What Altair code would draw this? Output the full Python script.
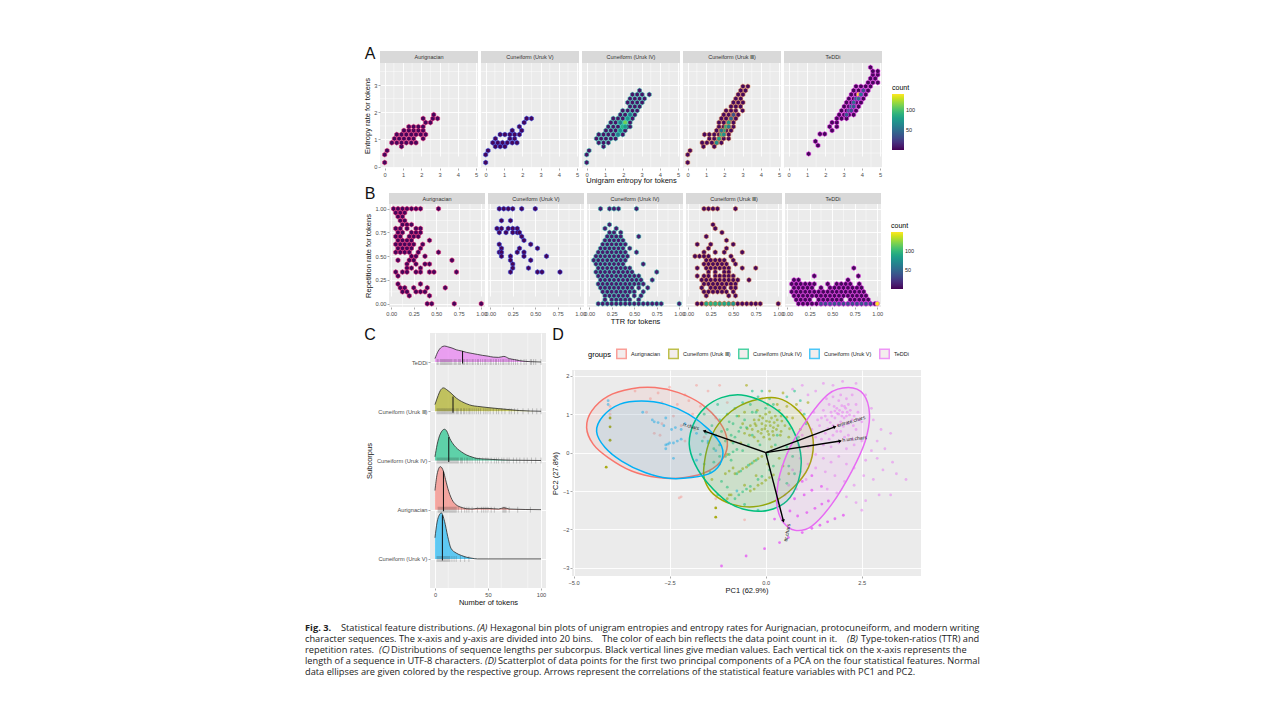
import altair as alt
import pandas as pd

FONT = "Liberation Sans"
GROUPS = ["Aurignacian", "Cuneiform (Uruk V)", "Cuneiform (Uruk IV)", "Cuneiform (Uruk Ⅲ)", "TeDDi"]
LEGEND_ORDER = ["Aurignacian", "Cuneiform (Uruk Ⅲ)", "Cuneiform (Uruk IV)", "Cuneiform (Uruk V)", "TeDDi"]
GROUP_COLORS = ["#F8766D", "#A3A500", "#00BF7D", "#00B0F6", "#E76BF3"]
HEX_STROKES = ["#ee1a6e", "#2a48ee", "#35d8b8", "#e8884a", "#f02cf0"]
HEX = "M0,-1L0.866,-0.5L0.866,0.5L0,1L-0.866,0.5L-0.866,-0.5Z"

# ---- Panel A: (y, [x ...]) rows of hexagons, with a base count and hot cells
A_AUR = [(0.15,[0.0]),(0.44,[0.0]),(0.59,[0.13]),(0.74,[0.92]),
 (0.88,[0.39,0.66,0.92,1.18,1.45,1.71]),(1.03,[0.53,0.79,1.05,1.32,1.58,2.1]),
 (1.18,[0.66,0.92,1.18,1.45,1.71,1.97,2.24]),(1.33,[1.05,1.32,1.58,1.84,2.1]),
 (1.47,[1.32,1.58,1.84,2.1]),(1.62,[2.24,2.5]),(1.77,[2.1,2.63,2.89]),(1.91,[2.68])]
A_V = [(0.15,[0.0]),(0.44,[0.0]),(0.59,[0.13]),(0.74,[0.53,0.79,1.05]),
 (0.88,[0.39,0.66,0.92,1.18,1.45,1.71]),(1.03,[0.53,1.32,1.58]),
 (1.18,[0.79,1.05,1.32,1.58,1.84]),(1.33,[1.45,1.97]),(1.47,[1.84]),
 (1.62,[2.1]),(1.77,[2.24,2.5])]
A_IV = [(0.15,[0.0]),(0.44,[0.0]),(0.59,[0.13]),(0.74,[0.92]),(0.88,[0.66,0.92,1.18]),
 (1.03,[0.53,0.79,1.05,1.32,1.58]),(1.18,[0.66,0.92,1.18,1.45,1.71,1.97]),
 (1.33,[1.05,1.32,1.58,1.84,2.1]),(1.47,[1.18,1.45,1.71,1.97,2.24,2.37]),
 (1.62,[1.32,1.58,1.84,2.1,2.37]),(1.77,[1.45,1.71,1.97,2.24,2.5]),
 (1.91,[1.84,2.1,2.37,2.63]),(2.06,[1.97,2.24,2.5,2.76]),(2.21,[2.37,2.63,2.89]),
 (2.36,[2.24,2.5,2.76,3.03]),(2.5,[2.37,2.63,2.89,3.16]),(2.65,[2.5,2.76,3.03,3.42]),
 (2.8,[2.89])]
A_III = [(0.15,[0.0]),(0.44,[0.0]),(0.59,[0.13]),(0.74,[0.86,1.45]),
 (0.88,[0.79,1.05,1.32,1.58,1.84]),(1.03,[1.18,1.45,1.71,1.97,2.24]),
 (1.18,[0.92,1.18,1.45,1.71,1.97,2.24]),(1.33,[1.58,1.84,2.1,2.37]),
 (1.47,[1.71,1.97,2.24,2.5]),(1.62,[1.71,1.97,2.24,2.5]),(1.77,[1.84,2.1,2.37,2.63]),
 (1.91,[1.97,2.24,2.5,2.76]),(2.06,[2.1,2.37,2.63,3.0]),(2.21,[2.37,2.63,2.89]),
 (2.36,[2.5,2.76,3.02]),(2.5,[2.63,2.9]),(2.65,[2.76,3.02]),(2.8,[2.9,3.16]),(2.95,[3.02,3.29])]
A_TE = [(0.47,[1.09]),(0.78,[1.6]),(0.93,[1.46]),(1.2,[1.71,1.97]),(1.33,[2.37]),
 (1.47,[2.24,2.63]),(1.62,[2.37,2.63]),(1.77,[2.63,2.89,3.16]),(1.91,[2.76,3.03,3.29,3.55]),
 (2.06,[2.89,3.16,3.42,3.68]),(2.21,[3.03,3.29,3.55,3.82]),(2.36,[3.16,3.42,3.68,3.95]),
 (2.5,[3.29,3.55,3.82,4.08]),(2.65,[3.42,3.68,3.95,4.21]),(2.8,[3.55,3.82,4.08,4.34]),
 (2.95,[3.68,3.95,4.21,4.47]),(3.09,[4.34,4.6,4.87]),(3.24,[4.47,4.73]),(3.38,[4.6,4.87]),
 (3.51,[4.6,4.87]),(3.65,[4.47])]
A_BASE = [3, 3, 8, 4, 3]
A_HOT = [[], [],
 [(1.84,1.33,70),(1.97,1.47,90),(2.1,1.62,110),(1.71,1.18,55),(2.24,1.77,70),(1.84,1.62,60),(2.1,1.47,75),(2.37,1.91,50)],
 [(1.71,1.03,80),(1.84,1.18,90),(1.97,1.33,85),(2.1,1.47,90),(2.24,1.62,75),(1.97,1.18,70),(1.58,0.88,70),(2.37,1.77,45),(2.5,1.91,35),(2.24,1.47,60),(1.84,1.33,55)],
 [(3.16,1.91,40),(3.29,2.06,45),(3.42,2.21,55),(3.55,2.36,50),(3.68,2.5,45),(3.82,2.65,140),(3.95,2.65,55),(3.82,2.5,50),(3.55,2.21,40),(4.08,2.8,35),(3.42,2.06,35)]]

# ---- Panel B
B_AUR = [(1.0,[0.025,0.075,0.125,0.175,0.225,0.275,0.325,0.525]),(0.958,[0.05,0.1,0.15]),
 (0.917,[0.075,0.125]),(0.875,[0.1,0.15]),(0.833,[0.125,0.175,0.225]),
 (0.792,[0.05,0.1,0.175,0.275,0.325]),(0.75,[0.075,0.125,0.225,0.275,0.325]),
 (0.708,[0.05,0.1,0.2,0.25,0.3]),(0.667,[0.075,0.125,0.175,0.225,0.425]),
 (0.625,[0.05,0.1,0.15,0.2,0.25,0.35]),(0.583,[0.075,0.125,0.175,0.225,0.325]),
 (0.542,[0.05,0.1,0.15,0.2,0.3,0.525]),(0.5,[0.225,0.275,0.375]),
 (0.458,[0.075,0.2,0.25,0.675]),(0.417,[0.175,0.275,0.375,0.425]),(0.375,[0.175,0.225,0.325]),
 (0.333,[0.05,0.125,0.175,0.275,0.325,0.425,0.475,0.725]),(0.292,[0.075]),
 (0.208,[0.075,0.325]),(0.167,[0.1,0.15,0.25,0.4,0.6]),(0.125,[0.125,0.175,0.275,0.325,0.375]),
 (0.083,[0.2,0.425]),(0.0,[0.4,0.45,0.7,1.0])]
B_V = [(1.0,[0.1,0.15,0.2,0.25,0.35,0.5]),(0.875,[0.125,0.225]),
 (0.792,[0.075,0.125,0.2,0.25,0.3]),(0.75,[0.1,0.175,0.25,0.3,0.325]),(0.708,[0.35]),
 (0.667,[0.375]),(0.625,[0.1,0.45]),(0.583,[0.125,0.325,0.525]),
 (0.542,[0.1,0.125,0.3,0.375]),(0.5,[0.125,0.225,0.375,0.625]),(0.458,[0.225,0.45]),
 (0.417,[0.25]),(0.375,[0.25,0.425]),(0.333,[0.225,0.525,0.575,0.775])]
B_IV = [(1.0,[0.125,0.225,0.275,0.325,0.525]),(0.833,[0.225]),(0.792,[0.175,0.3]),
 (0.75,[0.225,0.275,0.35]),(0.708,[0.2,0.25,0.3,0.35,0.55]),(0.667,[0.175,0.225,0.275,0.325,0.375]),
 (0.625,[0.15,0.2,0.25,0.3,0.35,0.4]),(0.583,[0.125,0.175,0.225,0.275,0.325,0.375,0.45]),
 (0.542,[0.1,0.15,0.2,0.25,0.3,0.35,0.4,0.525]),(0.5,[0.075,0.125,0.175,0.225,0.275,0.325,0.375,0.425]),
 (0.458,[0.05,0.1,0.15,0.2,0.25,0.3,0.35,0.4]),(0.417,[0.075,0.125,0.175,0.225,0.275,0.325,0.375,0.6]),
 (0.375,[0.1,0.15,0.2,0.25,0.3,0.35,0.4,0.45]),(0.333,[0.075,0.125,0.175,0.225,0.275,0.325,0.375,0.425,0.475,0.75]),
 (0.292,[0.1,0.15,0.2,0.25,0.3,0.35,0.4,0.45,0.5,0.55]),(0.25,[0.125,0.175,0.225,0.275,0.325,0.375,0.425,0.475,0.525,0.575,0.7]),
 (0.208,[0.1,0.15,0.2,0.25,0.3,0.35,0.4,0.45,0.5,0.55,0.6]),(0.167,[0.125,0.175,0.225,0.275,0.325,0.375,0.425,0.475,0.55,0.65]),
 (0.125,[0.15,0.2,0.25,0.3,0.35,0.4,0.45,0.5,0.6]),(0.083,[0.175,0.225,0.275,0.325,0.375,0.425,0.5,0.575]),
 (0.042,[0.175,0.25,0.3,0.35,0.4,0.45,0.55]),
 (0.0,[0.1,0.15,0.2,0.25,0.3,0.35,0.4,0.45,0.5,0.55,0.6,0.65,0.7,0.75,0.8,1.0])]
B_III = [(1.0,[0.175,0.225,0.275,0.325,0.525]),(0.833,[0.275]),(0.792,[0.3]),(0.75,[0.375]),
 (0.708,[0.2]),(0.667,[0.425]),(0.625,[0.1,0.25,0.5]),(0.583,[0.225,0.425]),
 (0.542,[0.175,0.3,0.4,0.6]),(0.5,[0.075,0.125,0.175,0.225,0.475]),
 (0.458,[0.2,0.25,0.3,0.35,0.4,0.5]),(0.417,[0.175,0.225,0.275,0.325,0.375,0.425,0.525]),
 (0.375,[0.1,0.2,0.25,0.3,0.35,0.4,0.45,0.6,0.75]),(0.333,[0.225,0.3,0.4,0.45]),
 (0.292,[0.1,0.175,0.225,0.3,0.35,0.4,0.45,0.5]),(0.25,[0.15,0.2,0.25,0.3,0.35,0.4,0.45,0.5,0.55,0.675]),
 (0.208,[0.175,0.225,0.275,0.325,0.375,0.425,0.475,0.525]),(0.167,[0.15,0.25,0.3,0.35,0.4,0.475,0.525]),
 (0.125,[0.175,0.225,0.275,0.325,0.375,0.425,0.5]),(0.083,[0.2,0.45,0.525]),
 (0.0,[0.1,0.15,0.2,0.25,0.3,0.35,0.4,0.45,0.5,0.55,0.6,0.65,0.7,0.75,0.8,1.0])]
B_TE = [(0.375,[0.74]),(0.292,[0.3,0.79]),(0.25,[0.075,0.125,0.675]),
 (0.208,[0.05,0.1,0.15,0.2,0.25,0.3,0.45,0.55,0.6,0.65,0.7,0.8]),
 (0.167,[0.075,0.125,0.175,0.225,0.275,0.375,0.475,0.525,0.575,0.625,0.675,0.725,0.775,0.825]),
 (0.125,[0.05,0.1,0.15,0.2,0.25,0.3,0.35,0.4,0.45,0.5,0.55,0.6,0.65,0.7,0.75,0.8,0.85]),
 (0.083,[0.075,0.125,0.175,0.225,0.275,0.325,0.375,0.425,0.475,0.525,0.575,0.625,0.675,0.725,0.775,0.825,0.875]),
 (0.042,[0.1,0.15,0.2,0.25,0.35,0.4,0.45,0.5,0.55,0.6,0.7,0.75,0.8,0.85,0.9]),
 (0.0,[0.125,0.175,0.225,0.275,0.325,0.375,0.425,0.475,0.525,0.575,0.625,0.675,0.725,0.775,0.825,0.875,0.925,0.975])]
B_BASE = [3, 3, 12, 4, 4]
B_HOT = [[], [], [],
 [(0.2,0,90),(0.25,0,95),(0.3,0,95),(0.35,0,90),(0.4,0,90),(0.45,0,85),(0.5,0,80)],
 [(0.375,0,35),(0.425,0,35),(0.475,0,40),(0.525,0,40),(0.575,0,35),(0.625,0,35),(0.675,0,35),(0.725,0,35),(0.775,0,35),(0.825,0,40),(0.875,0,40),(0.925,0,35),(1.0,0,150)]]

# ---- Panel C: ridge heights (fractions of the row spacing) over token counts
RIDGE_ORDER = ["TeDDi", "Cuneiform (Uruk Ⅲ)", "Cuneiform (Uruk IV)", "Aurignacian", "Cuneiform (Uruk V)"]
RIDGE_COLORS = ["#E76BF3", "#A3A500", "#00BF7D", "#F8766D", "#00B0F6"]
RIDGE_BASE = [4, 3, 2, 1, 0]
RIDGE_X = [
 [0,3,6,9,12,16,20,25,30,35,40,45,50,55,60,65,70,75,80,85,90,100],
 [0,3,5,8,11,14,17,20,25,30,35,40,50,60,70,80,90,100],
 [0,2,5,9,11,14,18,25,30,35,40,50,60,70,100],
 [0,2,5,8,10,13,17,20,25,30,35,40,50,60,65,70,100],
 [0,2,4,6,9,12,15,20,25,30,35,40,100]]
RIDGE_H = [
 [.07,.22,.30,.325,.31,.285,.25,.225,.195,.175,.155,.135,.12,.10,.095,.115,.07,.05,.027,.014,.007,0],
 [.135,.32,.42,.475,.44,.39,.33,.27,.20,.15,.115,.10,.075,.054,.034,.014,.005,0],
 [.075,.32,.54,.635,.60,.445,.31,.175,.11,.07,.04,.027,.014,.007,0],
 [.39,.72,.875,.78,.61,.37,.17,.10,.047,.02,.015,.027,.027,.014,.04,.014,0],
 [.43,.75,.89,.935,.765,.46,.22,.12,.07,.034,.014,0,0]]
RUG = [
 [2,3,5,6,7,8,9,10,11,12,13,14,15,16,18,19,20,22,23,24,26,27,28,30,31,33,35,36,38,40,41,43,45,47,48,50,52,53,55,57,58,60,62,64,65,67,69,70,72,74,76,78,81,84,86,90,91,93,95,100],
 [2,3,4,5,6,7,8,9,10,11,12,13,14,15,16,17,18,20,21,22,24,25,27,28,30,32,33,35,37,39,41,43,46,48,50,52,55,58,60,63,66,70,72,75,78,83,88,92,96,100],
 [2,3,4,5,6,7,8,9,10,11,12,13,14,15,16,17,18,19,20,21,22,24,25,26,28,30,31,33,35,38,40,42,45,48,50,53,56,58,60,63,65,68,70,74,77,80,84,87,91,95,100],
 [3,4,5,6,7,8,9,10,11,12,13,14,15,16,17,18,19,20,22,25,28,30,32,35,40,44,46,48,50,53,56,64,65,66,67,70,78,90],
 [2,3,4,5,6,7,8,9,10,11,12,13,14,16,18,20,24,28,32]]
MEDIAN_X = [26, 17, 13, 8, 7]
MEDIAN_H = [.225, .30, .475, .78, .89]

# ---- Panel D
E_AUR = [(-4.66,.65),(-4.53,1.08),(-4.10,1.47),(-3.49,1.66),(-2.88,1.69),(-2.27,1.56),(-1.67,1.26),(-1.19,.78),(-1.00,.30),(-1.10,-.13),(-1.49,-.48),(-2.10,-.65),(-2.80,-.65),(-3.49,-.48),(-4.10,-.13),(-4.49,.22)]
E_III = [(-1.61,-.39),(-1.49,.22),(-1.23,.74),(-.76,1.17),(-.19,1.39),(.33,1.41),(.76,1.17),(1.11,.74),(1.24,.22),(1.11,-.39),(.72,-.91),(.24,-1.26),(-.32,-1.41),(-.89,-1.34),(-1.36,-1.08),(-1.58,-.74)]
E_IV = [(-1.99,.22),(-1.88,.74),(-1.58,1.17),(-1.15,1.43),(-.63,1.50),(-.10,1.34),(.42,1.00),(.76,.48),(.92,-.13),(.85,-.74),(.55,-1.26),(.07,-1.50),(-.45,-1.50),(-.97,-1.30),(-1.49,-.82),(-1.84,-.30)]
E_V = [(-4.40,.55),(-4.23,.95),(-3.79,1.26),(-3.23,1.34),(-2.62,1.26),(-2.01,1.00),(-1.49,.61),(-1.15,.17),(-1.15,-.22),(-1.41,-.52),(-1.93,-.65),(-2.53,-.67),(-3.14,-.52),(-3.75,-.22),(-4.18,.13)]
E_TE = [(.29,-1.08),(.37,-.56),(.63,.13),(1.11,.91),(1.63,1.52),(2.15,1.69),(2.54,1.52),(2.70,1.00),(2.59,.30),(2.24,-.48),(1.72,-1.34),(1.20,-1.91),(.76,-2.02),(.46,-1.82),(.31,-1.47)]

P_AUR = [(-3.4,1.6),(-2.8,1.55),(-2.1,1.5),(-2.0,1.35),(-1.7,1.2),(-1.5,1.6),(-1.2,1.75),(-1.8,1.75),(-2.5,1.7),(-3.0,1.4),(-2.7,1.3),(-3.1,1.05),(-2.7,.75),(-2.4,.95),(-2.2,.7),(-2.9,.5),(-2.75,.45),(-2.1,.3),(-1.85,.6),(-1.6,.4),(-2.2,-1.15),(-2.25,-1.18),(-4.05,1.2),(-4.05,1.1),(-4.05,1.0),(-2.3,1.25),(-1.9,1.0),(-1.3,.9),(-1.0,1.3),(-.55,-1.75),(-1.3,-1.2)]
P_V = [(-4.1,1.35),(-4.1,1.25),(-3.2,1.05),(-2.95,.85),(-2.9,.8),(-2.8,.78),(-2.6,.9),(-2.65,.7),(-2.35,.65),(-2.45,.6),(-2.2,.6),(-2.6,.2),(-2.55,.22),(-2.5,.25),(-2.4,.25),(-2.3,.3),(-2.2,.35),(-2.4,-.15),(-2.6,.1),(-2.1,.75),(-1.8,.5),(-1.5,.3),(-1.3,.05),(-1.8,-.2),(-.75,-1.0)]
P_III_KEY = [(-4.05,.9),(-4.05,.67),(-4.05,.32),(-4.15,-.38),(-1.3,-1.44),(-1.3,-1.68)]
P_III = [(-.8,-.55),(-.7,-.5),(-.6,-.42),(-.5,-.38),(-.4,-.3),(-.3,-.22),(-.2,-.16),(-.1,-.1),(-.4,-1.0),(-.3,-.95),(-.2,-.85),(-.1,-.8),(0,-.72),(.1,-.65),(.2,-.58),(-.3,.4),(-.2,.55),(-.1,.6),(0,.7),(.1,.8),(.2,.65),(.3,.85),(.4,.55),(-.4,.7),(-.3,.85),(-.15,.95),(0,1.0),(.1,1.05),(.25,.95),(.35,1.1),(-.2,.3),(-.05,.4),(.1,.35),(.2,.45),(-.1,.75),(-.25,.7),(.05,.55),(.15,.9),(.4,.95),(.5,.7),(.6,.4),(.7,.9),(.8,1.25),(.9,.6),(-.55,.5),(-.65,.25),(-.9,.3),(-1.0,-.05),(-1.2,-.3),(-1.4,-.7),(-.95,-1.1),(.45,-.35),(.6,-.55),(.35,-.15),(.15,.15),(.45,1.55),(.1,1.6),(-.5,1.75),(1.1,1.3),
 (-.35,.6),(-.28,.75),(-.18,.85),(-.08,.9),(.02,.82),(.12,.7),(.22,.78),(.32,.7),(.42,.82),(-.12,.5),(-.02,.62),(.08,.47),(.18,.55),(.28,.6),(.38,.45),(-.42,.45),(-.48,.62),(-.6,.75),(-.7,.95),(.55,.92),(.62,.62),(-.22,1.1),(.05,1.25),(.3,1.25),(.55,1.2),(-.55,1.05),(-1.05,-.55),(-.95,-.48),(-.85,-.4),(-1.0,-1.2),(-.9,-1.1),(-.55,-.85),(-.25,-.6),(.05,-.3)]
P_IV = [(-.8,-1.2),(-.7,-1.1),(-.6,-1.02),(-.5,-.95),(-.4,-.88),(-.2,-.7),(-.1,-.62),(.1,-.45),(.2,-.35),(-.75,-.55),(-.65,-.48),(-.45,-.33),(-.35,-.27),(-.25,-.2),(.05,-.05),(-1.05,-.1),(-.95,-.05),(-.85,.02),(-.75,.08),(-1.35,.1),(-1.2,.2),(-1.05,.3),(-.9,.45),(-1.55,.5),(-1.4,.7),(-1.2,.85),(-1.0,1.0),(-.8,1.15),(-.6,1.3),(-.4,1.25),(-.2,1.45),(0,1.15),(.2,1.25),(.55,1.45),(-1.6,1.0),(-1.7,-.05),(-1.6,-.3),(-1.45,-.5),(-.7,.55),(-.55,.85),(-.35,.45),(-.15,.2),(.25,.2),(.55,.15),(.7,-.1),(.6,-.35),(.75,-.55),(.55,-.8),(.3,-1.3),(-.2,-1.5),(-.55,-1.35),(-1.25,-1.1),(.85,.4),(1.0,1.0),(-1.0,.6),(-.85,.75),(-.25,1.05),(.3,.45),(.35,-.7),
 (-1.3,.45),(-1.15,.55),(-.95,.8),(-.75,.95),(-.65,.65),(-.5,.65),(-.85,.25),(-.6,.05),(-.45,.2),(-1.5,.25),(-1.65,.3),(-1.2,-.1),(-1.35,-.25),(-.9,-.2),(-1.15,-.75),(-1.0,-.9),(-.35,1.05),(-.8,.4),(.1,1.4),(-.1,1.6),(-.35,1.6),(.75,1.6),(.9,1.35),(1.05,.75),(-1.25,1.25)]
P_TE_KEY = [(-1.15,-2.95),(-.51,-2.69),(-.03,-2.5),(.36,-2.34),(.59,-2.21),(.95,-2.08),(1.2,-1.97),(1.41,-1.89),(1.61,-1.8),(1.8,-1.72),(2.02,-1.63),(.23,-1.73),(.83,-1.65),(1.07,-1.56),(1.28,-1.45),(1.46,-1.34),(1.63,-1.26),(.63,-1.52),(.75,-1.2),(1.0,-1.1),(1.2,-.98),(1.45,-.88),(.95,-.75),(1.2,-.6)]
P_TE = [(1.9,1.0),(2.0,1.05),(2.1,.95),(1.8,.9),(1.85,1.15),(2.05,1.2),(2.2,1.1),(1.7,1.05),(1.95,.8),(2.15,.75),(1.75,.7),(2.3,.95),(1.6,.85),(2.35,1.25),(1.65,1.25),(1.9,1.35),(2.1,1.4),(2.25,1.5),(1.75,1.45),(1.5,1.1),(1.4,.7),(1.55,.5),(1.75,.45),(1.95,.55),(2.15,.45),(2.35,.6),(2.5,.8),(1.3,.4),(1.5,.2),(1.7,.15),(1.9,.25),(2.1,.1),(2.3,.2),(2.5,.3),(1.1,.15),(1.3,-.05),(1.5,-.15),(1.7,-.25),(1.9,-.1),(2.1,-.3),(2.3,-.4),(.9,-.15),(1.1,-.3),(1.3,-.4),(1.55,-.5),(1.8,-.6),(2.05,-.75),(2.3,-.85),(.7,-.45),(.9,-.5),(1.05,-.7),(1.6,-.95),(1.85,-1.05),(2.1,-1.15),(2.35,-1.3),(.6,-.85),(.8,-.95),(.5,-1.1),(.9,1.1),(1.1,1.5),(1.3,1.6),(.7,1.65),(.95,1.75),(1.5,1.8),(1.75,1.75),(2.0,1.85),(2.35,1.8),(2.6,1.5),(2.75,1.15),(2.8,.85),(3.0,.6),(3.25,.5),(2.9,.3),(3.1,.1),(2.75,.05),(3.3,-.25),(3.05,-.45),(2.8,-.7),(3.4,-.55),(3.65,-.7),(3.25,-1.1),(2.95,-1.1),(2.6,-1.25),(2.5,-1.5),(2.9,-.15),(2.6,-.2),(2.55,-.6),
 (1.92,1.1),(1.98,.95),(2.04,.9),(1.86,1.02),(1.8,1.08),(2.12,1.05),(2.08,1.15),(1.72,.95),(1.78,1.2),(1.98,1.22),(2.18,.98),(2.25,.85),(1.88,.72),(2.02,.68),(1.68,.78),(1.62,.62),(2.28,.7),(2.4,1.05),(2.42,.85),(1.55,.95),(1.45,.9),(1.58,1.4),(1.95,1.5),(2.15,1.25),(1.85,.55),(2.05,.4),(1.65,.35),(2.25,.35),(1.45,.35),(1.2,.6),(1.35,.85),(1.25,1.05),(1.05,.85),(.95,.45),(.85,.2)]

ARROW_X = [-1.6, 1.8, 1.94, 0.46]
ARROW_Y = [0.56, 0.67, 0.30, -1.78]
ARROW_ANGLE = [289, 70, 81, 166]
ARROW_TEXT = ["rr.chars", "entrate.chars", "h.uni.chars", "ttr.chars"]
ARROW_TEXT_X = [-1.94, 2.22, 2.31, 0.55]
ARROW_TEXT_Y = [0.69, 0.82, 0.37, -2.08]
ARROW_TEXT_ANGLE = [15, 343, 354, 280]

CAPTION = [
 (0, 20, "Fig. 3.", "bold"),
 (36, 20, "Statistical feature distributions.", "normal"),
 (172, 20, "(A)", "italic"),
 (185, 20, "Hexagonal bin plots of unigram entropies and entropy rates for Aurignacian, protocuneiform, and modern writing", "normal"),
 (0, 31, "character sequences. The x-axis and y-axis are divided into 20 bins.", "normal"),
 (297, 31, "The color of each bin reflects the data point count in it.", "normal"),
 (542, 31, "(B)", "italic"),
 (556, 31, "Type-token-ratios (TTR) and", "normal"),
 (0, 42, "repetition rates.", "normal"),
 (74, 42, "(C)", "italic"),
 (86, 42, "Distributions of sequence lengths per subcorpus. Black vertical lines give median values. Each vertical tick on the x-axis represents the", "normal"),
 (0, 53, "length of a sequence in UTF-8 characters.", "normal"),
 (180, 53, "(D)", "italic"),
 (193, 53, "Scatterplot of data points for the first two principal components of a PCA on the four statistical features. Normal", "normal"),
 (0, 64, "data ellipses are given colored by the respective group. Arrows represent the correlations of the statistical feature variables with PC1 and PC2.", "normal"),
]

ONE = pd.DataFrame({"a": [0]})
AX = dict(labelFont=FONT, titleFont=FONT, labelColor="#4d4d4d", titleColor="#111111",
          labelFontSize=5.7, titleFontSize=7.5, titleFontWeight="normal", tickColor="#555555",
          tickSize=2, tickWidth=0.5, domain=False, gridColor="white", gridWidth=0.9, labelPadding=1,
          labelOverlap=False, labelBound=False, labelFlush=False)


def spacer(w, h=1):
    return alt.Chart(ONE).mark_point(opacity=0).encode(x=alt.value(0), y=alt.value(0)).properties(width=w, height=h)


def hex_panel(rows, hot, base, name, stroke, xdom, ydom, xvals, yvals, xminor, yminor, W, H, S, size,
              fmt, ytitle=None, xtitle=None, legend=None, cdom=(1, 140), letter=None, xpad=2):
    recs = [{"x": x, "y": y, "n": base} for y, xs in rows for x in xs]
    recs += [{"x": x, "y": y, "n": n} for x, y, n in hot]
    df = pd.DataFrame(recs)
    xs = alt.Scale(domain=list(xdom), nice=False, zero=False)
    ys = alt.Scale(domain=list(ydom), range=[H, S], nice=False, zero=False)
    xaxis = alt.Axis(values=xvals, format=fmt[0], title=xtitle, labelAngle=0, titlePadding=xpad, **AX)
    if ytitle:
        yaxis = alt.Axis(values=yvals, format=fmt[1], title=ytitle, titlePadding=2, **AX)
    else:
        yaxis = alt.Axis(values=yvals, labels=False, ticks=False, title=None, **{k: v for k, v in AX.items() if k in ("domain", "gridColor", "gridWidth")})
    minor_x = alt.Chart(pd.DataFrame({"x": xminor})).mark_rule(color="white", strokeWidth=0.45).encode(
        x=alt.X("x:Q", scale=xs, axis=xaxis))
    minor_y = alt.Chart(pd.DataFrame({"y": yminor})).mark_rule(color="white", strokeWidth=0.45).encode(
        y=alt.Y("y:Q", scale=ys, axis=yaxis))
    hexes = alt.Chart(df).mark_point(shape=HEX, filled=True, size=size, stroke=stroke, strokeWidth=0.5, opacity=1).encode(
        x=alt.X("x:Q", scale=xs, axis=xaxis), y=alt.Y("y:Q", scale=ys, axis=yaxis),
        color=alt.Color("n:Q", scale=alt.Scale(scheme="viridis", domain=list(cdom)), legend=legend))
    strip = alt.Chart(ONE).mark_rect(color="#d9d9d9").encode(
        x=alt.value(0), x2=alt.value(W), y=alt.value(0), y2=alt.value(S))
    stext = alt.Chart(ONE).mark_text(text=name, font=FONT, fontSize=5.5, color="#333333").encode(
        x=alt.value(W / 2), y=alt.value(S / 2))
    layers = [minor_x, minor_y, hexes, strip, stext]
    if letter:
        layers.append(alt.Chart(ONE).mark_text(text=letter[0], font=FONT, fontSize=16, color="#111111").encode(
            x=alt.value(letter[1]), y=alt.value(letter[2])))
    return alt.layer(*layers).properties(width=W, height=H, view=alt.ViewConfig(fill="#ebebeb", stroke=None))


def row_A():
    data = [A_AUR, A_V, A_IV, A_III, A_TE]
    panels = [spacer(72)]
    for i, rows in enumerate(data):
        leg = None
        if i == 4:
            leg = alt.Legend(title="count", orient="none", legendX=108, legendY=33, gradientLength=56,
                             gradientThickness=12, values=[50, 100], titleFont=FONT, labelFont=FONT,
                             titleFontSize=7, labelFontSize=5.5, titleFontWeight="normal", tickCount=2,
                             titlePadding=3, labelColor="#222222")
        panels.append(hex_panel(rows, A_HOT[i], A_BASE[i], GROUPS[i], HEX_STROKES[i], (-0.257, 5.1), (-0.05, 3.81),
                                [0, 1, 2, 3, 4, 5], [0, 1, 2, 3], [0.5, 1.5, 2.5, 3.5, 4.5], [0.5, 1.5, 2.5, 3.5],
                                98, 117, 12, 24, ("d", "d"),
                                ytitle="Entropy rate for tokens" if i == 0 else None,
                                xtitle="Unigram entropy for tokens" if i == 2 else None,
                                legend=leg, letter=("A", -10, 3) if i == 0 else None, xpad=0))
    return alt.hconcat(*panels, spacing=3, bounds="flush").resolve_scale(color="independent")


def row_B():
    data = [B_AUR, B_V, B_IV, B_III, B_TE]
    panels = [spacer(81)]
    for i, rows in enumerate(data):
        leg = None
        if i == 4:
            leg = alt.Legend(title="count", orient="none", legendX=106, legendY=29, gradientLength=57,
                             gradientThickness=12, values=[50, 100], titleFont=FONT, labelFont=FONT,
                             titleFontSize=7, labelFontSize=5.5, titleFontWeight="normal",
                             titlePadding=3, labelColor="#222222")
        panels.append(hex_panel(rows, B_HOT[i], B_BASE[i], GROUPS[i], HEX_STROKES[i], (-0.025, 1.042), (-0.035, 1.05),
                                [0, .25, .5, .75, 1], [0, .25, .5, .75, 1], [.125, .375, .625, .875], [.125, .375, .625, .875],
                                96, 114, 11, 24, (".2f", ".2f"),
                                ytitle="Repetition rate for tokens" if i == 0 else None,
                                xtitle="TTR for tokens" if i == 2 else None,
                                legend=leg, cdom=(1, 150), letter=("B", -19, 1) if i == 0 else None))
    return alt.hconcat(*panels, spacing=3, bounds="flush").resolve_scale(color="independent")


def panel_C():
    xs = alt.Scale(domain=[-4.7, 104.7], nice=False, zero=False)
    ys = alt.Scale(domain=[-0.59, 4.59], nice=False, zero=False)
    label = ("datum.value==0?'Cuneiform (Uruk V)':datum.value==1?'Aurignacian':datum.value==2?'Cuneiform (Uruk IV)':"
             "datum.value==3?'Cuneiform (Uruk Ⅲ)':'TeDDi'")
    xaxis = alt.Axis(values=[0, 25, 50, 75, 100], title="Number of tokens", titlePadding=2, **AX)
    yaxis = alt.Axis(values=[0, 1, 2, 3, 4], labelExpr=label, title="Subcorpus", titlePadding=3, **AX)
    layers = [alt.Chart(pd.DataFrame({"x": [12.5, 37.5, 62.5, 87.5]})).mark_rule(color="white", strokeWidth=0.45).encode(
        x=alt.X("x:Q", scale=xs, axis=xaxis), y=alt.value(0), y2=alt.value(255)),
        alt.Chart(ONE).mark_point(opacity=0).encode(y=alt.Y("a:Q", scale=ys, axis=yaxis))]
    for i, name in enumerate(RIDGE_ORDER):
        b = RIDGE_BASE[i]
        df = pd.DataFrame({"x": RIDGE_X[i], "y": [b + h for h in RIDGE_H[i]], "b": b})
        rug = pd.DataFrame({"x": RUG[i], "y": b + 0.06, "y2": b - 0.06})
        med = pd.DataFrame({"x": [MEDIAN_X[i]], "y": [b + MEDIAN_H[i]], "y2": [b - 0.03]})
        layers.append(alt.Chart(df).mark_area(color=RIDGE_COLORS[i], opacity=0.6, interpolate="monotone").encode(
            x=alt.X("x:Q", scale=xs), y=alt.Y("y:Q", scale=ys), y2="b:Q"))
        layers.append(alt.Chart(rug).mark_rule(color="#333333", strokeWidth=0.5, opacity=0.5).encode(
            x=alt.X("x:Q", scale=xs), y=alt.Y("y:Q", scale=ys), y2="y2:Q"))
        layers.append(alt.Chart(df).mark_line(color="#2a2a2a", strokeWidth=0.8, interpolate="monotone").encode(
            x=alt.X("x:Q", scale=xs), y=alt.Y("y:Q", scale=ys)))
        layers.append(alt.Chart(med).mark_rule(color="#111111", strokeWidth=1).encode(
            x=alt.X("x:Q", scale=xs), y=alt.Y("y:Q", scale=ys), y2="y2:Q"))
    layers.append(alt.Chart(ONE).mark_text(text="C", font=FONT, fontSize=16, color="#111111").encode(
        x=alt.value(-60), y=alt.value(2)))
    layers.append(alt.Chart(ONE).mark_text(text="D", font=FONT, fontSize=16, color="#111111").encode(
        x=alt.value(128), y=alt.value(2)))
    return alt.layer(*layers).properties(width=116, height=255, view=alt.ViewConfig(fill="#ebebeb", stroke=None))


def panel_D():
    xs = alt.Scale(domain=[-5.04, 4.04], nice=False, zero=False)
    ys = alt.Scale(domain=[-3.21, 2.148], nice=False, zero=False)
    cs = alt.Scale(domain=LEGEND_ORDER, range=GROUP_COLORS)
    X = alt.X("x:Q", scale=xs, axis=alt.Axis(values=[-5, -2.5, 0, 2.5], format=".1f", title="PC1 (62.9%)", titlePadding=2, **AX))
    Y = alt.Y("y:Q", scale=ys, axis=alt.Axis(values=[-3, -2, -1, 0, 1, 2], format="d", title="PC2 (27.8%)", titlePadding=3, **AX))
    pts = []
    for ci, lst, op in [(0, P_AUR, .35), (1, P_III, .55), (1, P_III_KEY, .9), (2, P_IV, .5), (3, P_V, .5),
                        (4, P_TE, .45), (4, P_TE_KEY, .9)]:
        pts += [{"x": x, "y": y, "c": GROUP_COLORS[ci], "o": op} for x, y in lst]
    pdf = pd.DataFrame(pts)
    points = alt.Chart(pdf).mark_circle(size=8).encode(x=X, y=Y,
        color=alt.Color("c:N", scale=None), opacity=alt.Opacity("o:Q", scale=None))
    layers = [points]
    ell = [(LEGEND_ORDER[0], E_AUR), (LEGEND_ORDER[1], E_III), (LEGEND_ORDER[2], E_IV), (LEGEND_ORDER[3], E_V), (LEGEND_ORDER[4], E_TE)]
    leg = alt.Legend(title="groups", orient="none", legendX=16, legendY=-22, direction="horizontal", columns=5,
                     titleOrient="left", titleFont=FONT, labelFont=FONT, titleFontSize=7.5, labelFontSize=5.5,
                     titleFontWeight="normal", symbolType="square", symbolSize=90, symbolStrokeWidth=1.5,
                     symbolOpacity=1, symbolFillColor="#efe6e6", columnPadding=4, labelOffset=4, titlePadding=5,
                     values=LEGEND_ORDER, labelColor="#222222")
    for k, (name, lst) in enumerate(ell):
        df = pd.DataFrame({"x": [p[0] for p in lst], "y": [p[1] for p in lst], "g": name, "k": range(len(lst))})
        layers.append(alt.Chart(df).mark_line(interpolate="cardinal-closed", strokeWidth=1.5, fill=GROUP_COLORS[k], fillOpacity=0.1).encode(
            x=alt.X("x:Q", scale=xs), y=alt.Y("y:Q", scale=ys), order="k:Q",
            color=alt.Color("g:N", scale=cs, legend=leg)))
    arr = pd.DataFrame({"x": [0] * 4, "y": [0] * 4, "x2": ARROW_X, "y2": ARROW_Y, "a": ARROW_ANGLE})
    layers.append(alt.Chart(arr).mark_rule(color="black", strokeWidth=1.4).encode(
        x=alt.X("x:Q", scale=xs), y=alt.Y("y:Q", scale=ys), x2="x2:Q", y2="y2:Q"))
    layers.append(alt.Chart(arr).mark_point(shape="triangle-up", filled=True, color="black", size=14, opacity=1).encode(
        x=alt.X("x2:Q", scale=xs), y=alt.Y("y2:Q", scale=ys), angle=alt.Angle("a:Q", scale=None)))
    lab = pd.DataFrame({"x": ARROW_TEXT_X, "y": ARROW_TEXT_Y, "t": ARROW_TEXT, "a": ARROW_TEXT_ANGLE})
    layers.append(alt.Chart(lab).mark_text(font=FONT, fontSize=5, color="#111111").encode(
        x=alt.X("x:Q", scale=xs), y=alt.Y("y:Q", scale=ys), text="t:N", angle=alt.Angle("a:Q", scale=None)))
    return alt.layer(*layers).properties(width=349, height=206, view=alt.ViewConfig(fill="#ebebeb", stroke=None))


def caption():
    df = pd.DataFrame(CAPTION, columns=["x", "y", "t", "s"])
    layers = []
    for style, kw in [("normal", {}), ("bold", {"fontWeight": "bold"}), ("italic", {"fontStyle": "italic"})]:
        layers.append(alt.Chart(df[df.s == style]).mark_text(font="Open Sans", fontSize=9.25, align="left", color="#222222", **kw).encode(
            x=alt.X("x:Q", scale=None), y=alt.Y("y:Q", scale=None), text="t:N"))
    return alt.layer(*layers).properties(width=675, height=70, view=alt.ViewConfig(stroke=None))


column_d = alt.vconcat(spacer(10, 1), panel_D(), spacing=12).resolve_scale(color="independent")
row_cd = alt.hconcat(spacer(72), panel_C(), column_d, spacing=-13).resolve_scale(color="independent")

chart = alt.vconcat(row_A(), row_B(), row_cd, caption(), spacing=1).resolve_scale(color="independent").properties(
    padding={"left": 294, "top": 38, "right": 0, "bottom": 0}, background="white"
).configure_view(stroke=None).configure_axis(labelOverlap=False)

chart.save("out.html", embed_options={"renderer": "svg", "actions": False})
